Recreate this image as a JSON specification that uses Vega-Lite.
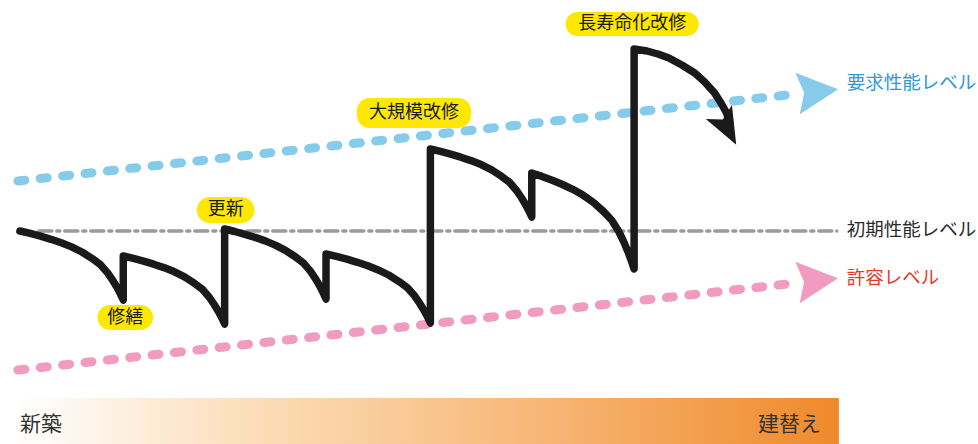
{
  "$schema": "https://vega.github.io/schema/vega-lite/v6.json",
  "width": 978,
  "height": 444,
  "autosize": {"type": "fit", "contains": "padding"},
  "padding": 0,
  "background": "#ffffff",
  "config": {"view": {"stroke": null}, "font": "Noto Sans CJK JP"},
  "datasets": {
    "bar": [{"start": 8, "end": 838, "bottom": 0, "top": 46}],
    "barText": [
      {"text": "新築", "x": 14, "y": 19, "side": "left"},
      {"text": "建替え", "x": 820, "y": 19, "side": "right"}
    ],
    "levels": [
      {"level": "要求", "x": 12, "y": 263},
      {"level": "要求", "x": 795, "y": 350},
      {"level": "初期", "x": 33, "y": 213},
      {"level": "初期", "x": 836, "y": 213},
      {"level": "許容", "x": 12, "y": 74},
      {"level": "許容", "x": 795, "y": 161}
    ],
    "levelArrows": [
      {"level": "要求", "x": 815.2, "y": 352.5, "angle": 354},
      {"level": "許容", "x": 815.1, "y": 163.5, "angle": 354}
    ],
    "levelText": [
      {"text": "要求性能レベル", "x": 846, "y": 361},
      {"text": "初期性能レベル", "x": 846, "y": 214},
      {"text": "許容レベル", "x": 846, "y": 166}
    ],
    "perf": [
      {"i": 0, "x": 14, "y": 213}, {"i": 1, "x": 24.4, "y": 210.6}, {"i": 2, "x": 34.8, "y": 207.8},
      {"i": 3, "x": 45.2, "y": 204.7}, {"i": 4, "x": 55.6, "y": 201.3}, {"i": 5, "x": 66, "y": 197.1},
      {"i": 6, "x": 76.4, "y": 192.0}, {"i": 7, "x": 86.8, "y": 185.4}, {"i": 8, "x": 95.1, "y": 179.2},
      {"i": 9, "x": 102.4, "y": 170.9}, {"i": 10, "x": 107.6, "y": 163.3}, {"i": 11, "x": 111.8, "y": 156.4},
      {"i": 12, "x": 114.9, "y": 150.6}, {"i": 13, "x": 118, "y": 144},
      {"i": 14, "x": 118, "y": 188},
      {"i": 15, "x": 128.2, "y": 185.6}, {"i": 16, "x": 138.4, "y": 182.9}, {"i": 17, "x": 148.6, "y": 179.8},
      {"i": 18, "x": 158.8, "y": 176.4}, {"i": 19, "x": 169, "y": 172.4}, {"i": 20, "x": 179.2, "y": 167.3},
      {"i": 21, "x": 189.4, "y": 160.8}, {"i": 22, "x": 197.6, "y": 154.7}, {"i": 23, "x": 204.7, "y": 146.5},
      {"i": 24, "x": 209.8, "y": 139}, {"i": 25, "x": 213.9, "y": 132.2}, {"i": 26, "x": 216.9, "y": 126.5},
      {"i": 27, "x": 220, "y": 120},
      {"i": 28, "x": 220, "y": 215},
      {"i": 29, "x": 230.2, "y": 212.5}, {"i": 30, "x": 240.4, "y": 209.7}, {"i": 31, "x": 250.6, "y": 206.6},
      {"i": 32, "x": 260.8, "y": 203.1}, {"i": 33, "x": 271, "y": 198.9}, {"i": 34, "x": 281.2, "y": 193.6},
      {"i": 35, "x": 291.4, "y": 187}, {"i": 36, "x": 299.6, "y": 180.7}, {"i": 37, "x": 306.7, "y": 172.3},
      {"i": 38, "x": 311.8, "y": 164.6}, {"i": 39, "x": 315.9, "y": 157.6}, {"i": 40, "x": 318.9, "y": 151.6},
      {"i": 41, "x": 322, "y": 145},
      {"i": 42, "x": 322, "y": 190},
      {"i": 43, "x": 332.5, "y": 187.6}, {"i": 44, "x": 343, "y": 184.8}, {"i": 45, "x": 353.5, "y": 181.7},
      {"i": 46, "x": 364, "y": 178.3}, {"i": 47, "x": 374.5, "y": 174.1}, {"i": 48, "x": 385, "y": 169.0},
      {"i": 49, "x": 395.5, "y": 162.4}, {"i": 50, "x": 403.9, "y": 156.2}, {"i": 51, "x": 411.3, "y": 147.9},
      {"i": 52, "x": 416.5, "y": 140.3}, {"i": 53, "x": 420.7, "y": 133.4}, {"i": 54, "x": 423.9, "y": 127.6},
      {"i": 55, "x": 427, "y": 121},
      {"i": 56, "x": 427, "y": 295},
      {"i": 57, "x": 437.2, "y": 292.6}, {"i": 58, "x": 447.4, "y": 289.9}, {"i": 59, "x": 457.6, "y": 286.8},
      {"i": 60, "x": 467.8, "y": 283.4}, {"i": 61, "x": 478, "y": 279.4}, {"i": 62, "x": 488.2, "y": 274.3},
      {"i": 63, "x": 498.4, "y": 267.8}, {"i": 64, "x": 506.6, "y": 261.7}, {"i": 65, "x": 513.7, "y": 253.5},
      {"i": 66, "x": 518.8, "y": 246}, {"i": 67, "x": 522.9, "y": 239.2}, {"i": 68, "x": 525.9, "y": 233.5},
      {"i": 69, "x": 529, "y": 227},
      {"i": 70, "x": 529, "y": 271},
      {"i": 71, "x": 539.3, "y": 267.6}, {"i": 72, "x": 549.6, "y": 263.8}, {"i": 73, "x": 559.9, "y": 259.5},
      {"i": 74, "x": 570.2, "y": 254.7}, {"i": 75, "x": 580.5, "y": 248.9}, {"i": 76, "x": 590.8, "y": 241.7},
      {"i": 77, "x": 601.1, "y": 232.6}, {"i": 78, "x": 609.3, "y": 224}, {"i": 79, "x": 616.6, "y": 212.4},
      {"i": 80, "x": 621.7, "y": 201.9}, {"i": 81, "x": 625.8, "y": 192.3}, {"i": 82, "x": 628.9, "y": 184.1},
      {"i": 83, "x": 632, "y": 175},
      {"i": 84, "x": 632, "y": 395},
      {"i": 85, "x": 645, "y": 393}, {"i": 86, "x": 656, "y": 390}, {"i": 87, "x": 667, "y": 386},
      {"i": 88, "x": 680, "y": 379}, {"i": 89, "x": 693, "y": 371}, {"i": 90, "x": 703, "y": 362},
      {"i": 91, "x": 713, "y": 351}, {"i": 92, "x": 720, "y": 340}, {"i": 93, "x": 725, "y": 331},
      {"i": 94, "x": 728, "y": 322}
    ],
    "perfArrow": [{"x": 726, "y": 315.6, "angle": 62}],
    "events": [
      {"label": "修繕", "x0": 92, "x1": 148, "y0": 114, "y1": 139, "cx": 120, "cy": 126.5},
      {"label": "更新", "x0": 192, "x1": 250, "y0": 221, "y1": 247, "cx": 221, "cy": 234},
      {"label": "大規模改修", "x0": 353, "x1": 468, "y0": 316, "y1": 346, "cx": 410.5, "cy": 331},
      {"label": "長寿命化改修", "x0": 563, "x1": 697, "y0": 408, "y1": 432, "cx": 630, "cy": 420}
    ]
  },
  "resolve": {"scale": {"color": "independent", "strokeDash": "independent", "strokeWidth": "independent"}},
  "layer": [
    {
      "data": {"name": "bar"},
      "mark": {
        "type": "rect",
        "fill": {
          "gradient": "linear", "x1": 0, "y1": 0, "x2": 1, "y2": 0,
          "stops": [
            {"offset": 0, "color": "#ffffff"},
            {"offset": 0.3, "color": "#fcdcb6"},
            {"offset": 0.65, "color": "#f7b574"},
            {"offset": 1, "color": "#ef8a2a"}
          ]
        }
      },
      "encoding": {
        "x": {"field": "start", "type": "quantitative", "scale": {"domain": [0, 978], "nice": false, "zero": false}, "axis": null},
        "x2": {"field": "end"},
        "y": {"field": "bottom", "type": "quantitative", "scale": {"domain": [0, 444], "nice": false, "zero": false}, "axis": null},
        "y2": {"field": "top"}
      }
    },
    {
      "data": {"name": "barText"},
      "transform": [{"filter": "datum.side === 'left'"}],
      "mark": {"type": "text", "fontSize": 21, "color": "#333333", "align": "left", "baseline": "middle", "font": "Noto Sans CJK JP"},
      "encoding": {
        "x": {"field": "x", "type": "quantitative", "scale": {"domain": [0, 978], "nice": false, "zero": false}, "axis": null},
        "y": {"field": "y", "type": "quantitative", "scale": {"domain": [0, 444], "nice": false, "zero": false}, "axis": null},
        "text": {"field": "text"}
      }
    },
    {
      "data": {"name": "barText"},
      "transform": [{"filter": "datum.side === 'right'"}],
      "mark": {"type": "text", "fontSize": 21, "color": "#333333", "align": "right", "baseline": "middle", "font": "Noto Sans CJK JP"},
      "encoding": {
        "x": {"field": "x", "type": "quantitative", "scale": {"domain": [0, 978], "nice": false, "zero": false}, "axis": null},
        "y": {"field": "y", "type": "quantitative", "scale": {"domain": [0, 444], "nice": false, "zero": false}, "axis": null},
        "text": {"field": "text"}
      }
    },
    {
      "data": {"name": "levels"},
      "mark": {"type": "line", "strokeCap": "round"},
      "encoding": {
        "x": {"field": "x", "type": "quantitative", "scale": {"domain": [0, 978], "nice": false, "zero": false}, "axis": null},
        "y": {"field": "y", "type": "quantitative", "scale": {"domain": [0, 444], "nice": false, "zero": false}, "axis": null},
        "color": {"field": "level", "type": "nominal", "legend": null,
          "scale": {"domain": ["要求", "初期", "許容"], "range": ["#86cbea", "#9b9b9b", "#f29bc1"]}},
        "strokeDash": {"field": "level", "type": "nominal", "legend": null,
          "scale": {"domain": ["要求", "初期", "許容"], "range": [[7, 15.5], [13, 5, 3, 5], [7, 15.5]]}},
        "strokeWidth": {"field": "level", "type": "nominal", "legend": null,
          "scale": {"type": "ordinal", "domain": ["要求", "初期", "許容"], "range": [9, 3.5, 9]}}
      }
    },
    {
      "data": {"name": "levelArrows"},
      "mark": {"type": "point", "filled": true, "opacity": 1, "size": 1936, "strokeWidth": 0,
        "shape": "M1,0 L-0.85,-0.95 L-0.55,0 L-0.85,0.95 Z"},
      "encoding": {
        "x": {"field": "x", "type": "quantitative", "scale": {"domain": [0, 978], "nice": false, "zero": false}, "axis": null},
        "y": {"field": "y", "type": "quantitative", "scale": {"domain": [0, 444], "nice": false, "zero": false}, "axis": null},
        "angle": {"field": "angle", "type": "quantitative", "scale": null},
        "color": {"field": "level", "type": "nominal", "legend": null,
          "scale": {"domain": ["要求", "許容"], "range": ["#86cbea", "#f29bc1"]}}
      }
    },
    {
      "data": {"name": "levelText"},
      "mark": {"type": "text", "fontSize": 18.5, "align": "left", "baseline": "middle", "font": "Noto Sans CJK JP"},
      "encoding": {
        "x": {"field": "x", "type": "quantitative", "scale": {"domain": [0, 978], "nice": false, "zero": false}, "axis": null},
        "y": {"field": "y", "type": "quantitative", "scale": {"domain": [0, 444], "nice": false, "zero": false}, "axis": null},
        "text": {"field": "text"},
        "color": {"field": "text", "type": "nominal", "legend": null,
          "scale": {"domain": ["要求性能レベル", "初期性能レベル", "許容レベル"], "range": ["#2a9bd6", "#2b2b2b", "#e5392c"]}}
      }
    },
    {
      "data": {"name": "perf"},
      "mark": {"type": "line", "color": "#1a1a1a", "strokeWidth": 7.5, "strokeJoin": "round", "strokeCap": "round"},
      "encoding": {
        "x": {"field": "x", "type": "quantitative", "scale": {"domain": [0, 978], "nice": false, "zero": false}, "axis": null},
        "y": {"field": "y", "type": "quantitative", "scale": {"domain": [0, 444], "nice": false, "zero": false}, "axis": null},
        "order": {"field": "i", "type": "quantitative"}
      }
    },
    {
      "data": {"name": "perfArrow"},
      "mark": {"type": "point", "filled": true, "opacity": 1, "size": 1369, "strokeWidth": 0, "color": "#1a1a1a",
        "shape": "M1,0 L-1,-0.8 L-0.55,0 L-1,0.8 Z"},
      "encoding": {
        "x": {"field": "x", "type": "quantitative", "scale": {"domain": [0, 978], "nice": false, "zero": false}, "axis": null},
        "y": {"field": "y", "type": "quantitative", "scale": {"domain": [0, 444], "nice": false, "zero": false}, "axis": null},
        "angle": {"field": "angle", "type": "quantitative", "scale": null}
      }
    },
    {
      "data": {"name": "events"},
      "mark": {"type": "rect", "fill": "#ffe800", "cornerRadius": 13},
      "encoding": {
        "x": {"field": "x0", "type": "quantitative", "scale": {"domain": [0, 978], "nice": false, "zero": false}, "axis": null},
        "x2": {"field": "x1"},
        "y": {"field": "y0", "type": "quantitative", "scale": {"domain": [0, 444], "nice": false, "zero": false}, "axis": null},
        "y2": {"field": "y1"}
      }
    },
    {
      "data": {"name": "events"},
      "mark": {"type": "text", "fontSize": 18, "color": "#1a1a1a", "align": "center", "baseline": "middle", "font": "Noto Sans CJK JP"},
      "encoding": {
        "x": {"field": "cx", "type": "quantitative", "scale": {"domain": [0, 978], "nice": false, "zero": false}, "axis": null},
        "y": {"field": "cy", "type": "quantitative", "scale": {"domain": [0, 444], "nice": false, "zero": false}, "axis": null},
        "text": {"field": "label"}
      }
    }
  ]
}
